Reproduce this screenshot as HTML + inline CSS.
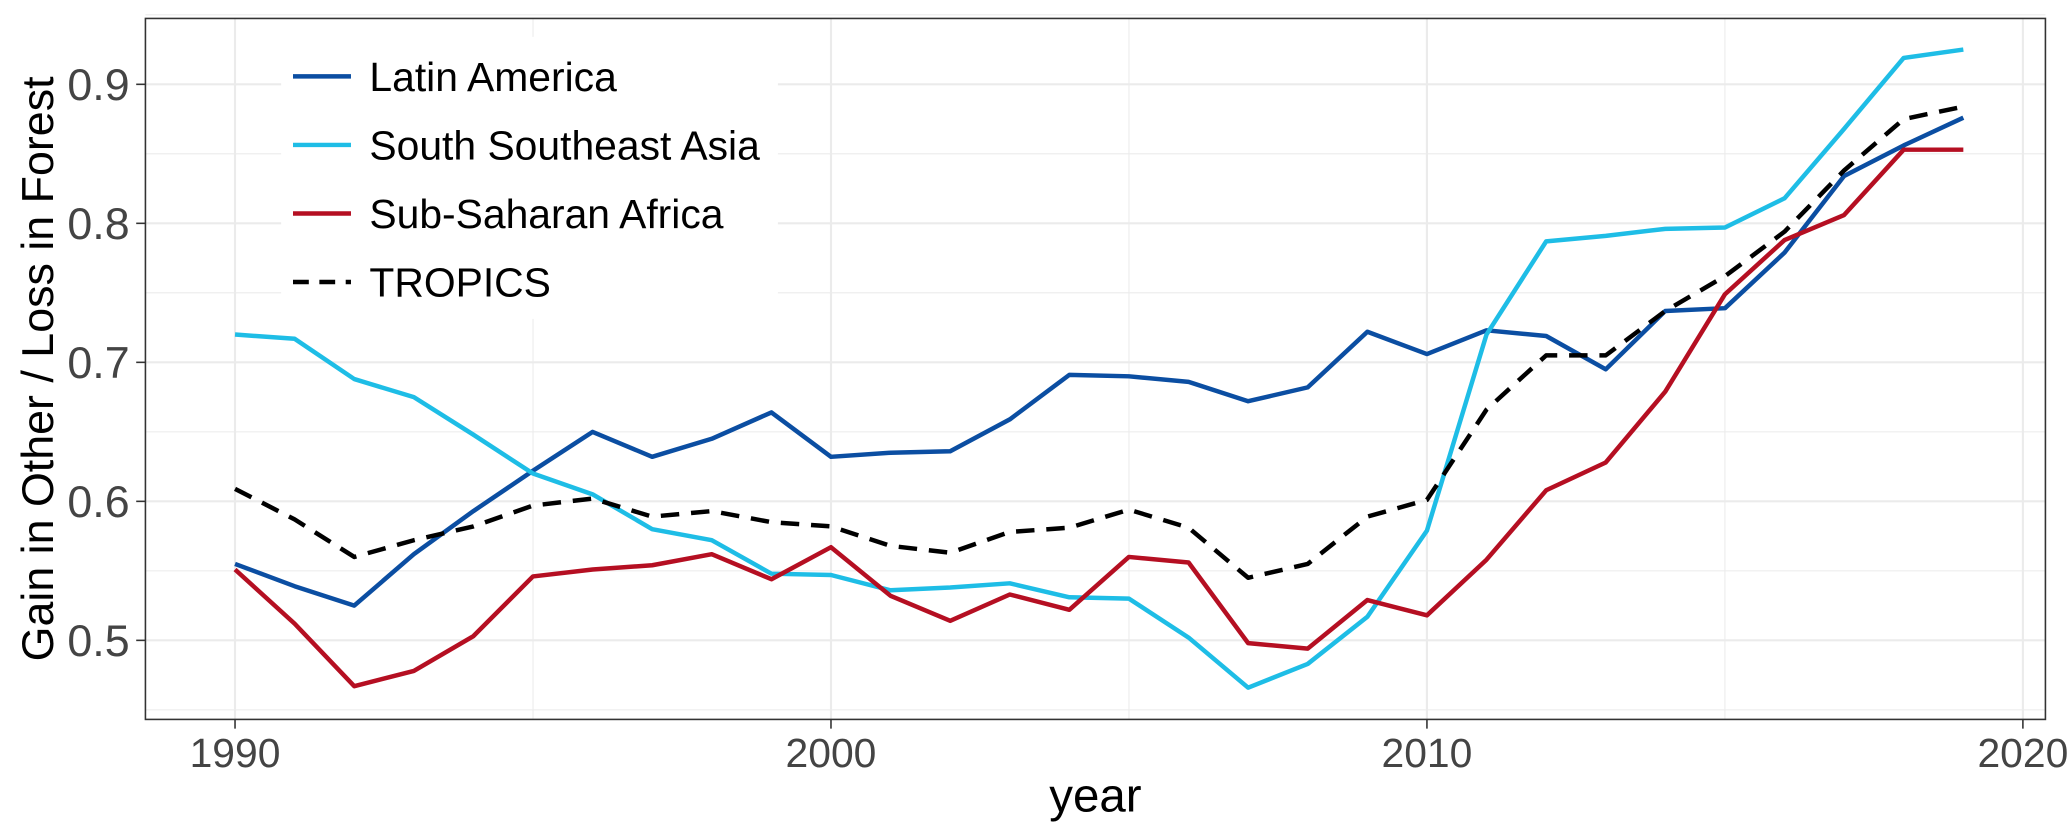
<!DOCTYPE html>
<html><head><meta charset="utf-8"><style>
html,body{margin:0;padding:0;background:#fff;}
svg{display:block;font-family:"Liberation Sans",Arial,sans-serif;}
</style></head><body>
<svg id="chart" width="2067" height="838" viewBox="0 0 1568 636" xmlns="http://www.w3.org/2000/svg">
<rect x="0" y="0" width="1568" height="636" fill="#fff"/>
<g id="grid"></g>
<g id="lines"></g>
<rect x="110" y="14" width="1442" height="532" fill="none" stroke="#333" stroke-width="1.2"/>
<g id="ticks"></g>
<text x="831" y="616" font-size="36" text-anchor="middle" fill="#000">year</text>
<text transform="translate(40,280) rotate(-90)" font-size="34" text-anchor="middle" fill="#000">Gain in Other / Loss in Forest</text>
<g id="legend"></g>
</svg>
<script>
const years=[];for(let y=1990;y<=2019;y++)years.push(y);
const latinAmerica=[0.555,0.539,0.525,0.562,0.593,0.622,0.650,0.632,0.645,0.664,0.632,0.635,0.636,0.659,0.691,0.690,0.686,0.672,0.682,0.722,0.706,0.723,0.719,0.695,0.737,0.739,0.779,0.834,0.856,0.876];
const southSoutheastAsia=[0.720,0.717,0.688,0.675,0.648,0.620,0.605,0.580,0.572,0.548,0.547,0.536,0.538,0.541,0.531,0.530,0.502,0.466,0.483,0.517,0.579,0.720,0.787,0.791,0.796,0.797,0.818,0.868,0.919,0.925];
const subSaharanAfrica=[0.551,0.512,0.467,0.478,0.503,0.546,0.551,0.554,0.562,0.544,0.567,0.532,0.514,0.533,0.522,0.560,0.556,0.498,0.494,0.529,0.518,0.558,0.608,0.628,0.679,0.749,0.788,0.806,0.853,0.853];
const tropics=[0.609,0.587,0.560,0.572,0.582,0.597,0.602,0.589,0.593,0.585,0.582,0.568,0.563,0.578,0.581,0.594,0.581,0.545,0.555,0.589,0.601,0.666,0.705,0.705,0.737,0.762,0.794,0.838,0.875,0.884];
const xTicks=[1990,2000,2010,2020];
const yTicks=[0.5,0.6,0.7,0.8,0.9];
const NS="http://www.w3.org/2000/svg";
const xs=v=>178+(v-1990)*45.23;
const ys=v=>486-(v-0.5)*1055;
function mk(tag,attrs,parent){const e=document.createElementNS(NS,tag);for(const k in attrs)e.setAttribute(k,attrs[k]);parent.appendChild(e);return e;}
const grid=document.getElementById('grid'),ticks=document.getElementById('ticks'),lines=document.getElementById('lines'),legend=document.getElementById('legend');
for(let y=1985;y<=2020;y+=5){if(xs(y)<110||xs(y)>1552)continue;const l=mk('line',{x1:xs(y),x2:xs(y),y1:14,y2:546,stroke:'#ebebeb','stroke-width':y%10===0?1.6:0.8},grid);

}
for(let v=0.45;v<=0.951;v+=0.05){const l=mk('line',{x1:110,x2:1552,y1:ys(v),y2:ys(v),stroke:'#ebebeb','stroke-width':Math.abs(v*10-Math.round(v*10))<0.01?1.6:0.8},grid);

}
xTicks.forEach(t=>{mk('line',{x1:xs(t),x2:xs(t),y1:546,y2:553,stroke:'#333','stroke-width':1.2},ticks);
const tx=mk('text',{x:xs(t),y:582,'font-size':31,'text-anchor':'middle',fill:'#444'},ticks);tx.textContent=t;

});
yTicks.forEach(t=>{mk('line',{x1:103,x2:110,y1:ys(t),y2:ys(t),stroke:'#333','stroke-width':1.2},ticks);
const tx=mk('text',{x:98,y:ys(t)+12,'font-size':34,'text-anchor':'end',fill:'#444'},ticks);tx.textContent=t.toFixed(1);

});
const series=[
{name:'Latin America',vals:latinAmerica,color:'#0b4ea2',dash:null,id:'latin-america'},
{name:'South Southeast Asia',vals:southSoutheastAsia,color:'#1ebde6',dash:null,id:'south-southeast-asia'},
{name:'Sub-Saharan Africa',vals:subSaharanAfrica,color:'#b50f22',dash:null,id:'sub-saharan-africa'},
{name:'TROPICS',vals:tropics,color:'#000',dash:'14 9',id:'tropics'}];
series.forEach(s=>{const d=s.vals.map((v,i)=>(i?'L':'M')+xs(years[i]).toFixed(1)+','+ys(v).toFixed(1)).join(' ');
const p=mk('path',{d:d,fill:'none',stroke:s.color,'stroke-width':3.4,'stroke-linejoin':'round'},lines);
if(s.dash)p.setAttribute('stroke-dasharray',s.dash);

});
mk('rect',{x:213,y:28,width:377,height:214,fill:'#fff'},legend);
series.forEach((s,i)=>{const y=58+i*52;
const l=mk('line',{x1:222,x2:266,y1:y,y2:y,stroke:s.color,'stroke-width':3.4},legend);
if(s.dash)l.setAttribute('stroke-dasharray','12 8');
const t=mk('text',{x:280,y:y+11,'font-size':31,fill:'#000'},legend);t.textContent=s.name;

});
</script>
</body></html>
